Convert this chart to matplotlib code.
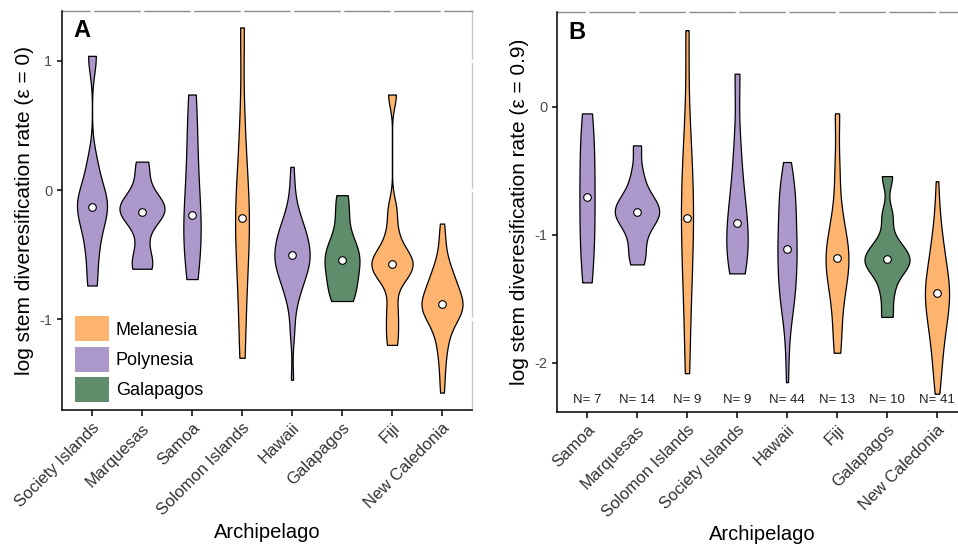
import numpy as np
import matplotlib.pyplot as plt
from matplotlib.patches import Patch

plt.rcParams['font.family'] = ['Liberation Sans', 'DejaVu Sans']

# Panel A: log stem diversification rate, epsilon = 0
cats_a = ['Society Islands', 'Marquesas', 'Samoa', 'Solomon Islands',
          'Hawaii', 'Galapagos', 'Fiji', 'New Caledonia']
a_society = [-0.74, -0.5, -0.32, -0.2, -0.13, -0.07, 0.0, 0.2, 1.04]
a_marquesas = [-0.61, -0.59, -0.55, -0.40, -0.22, -0.19, -0.17, -0.17, -0.14,
               -0.11, -0.08, -0.02, 0.15, 0.22]
a_samoa = [-0.69, -0.45, -0.3, -0.19, 0.1, 0.4, 0.74]
a_solomon = [-1.30, -0.9, -0.6, -0.4, -0.22, -0.1, 0.1, 0.5, 1.26]
a_hawaii = [-1.47, -1.15, -1.04, -0.93, -0.86, -0.82, -0.78, -0.75, -0.73, -0.71,
            -0.69, -0.66, -0.64, -0.62, -0.61, -0.595, -0.58, -0.565, -0.55, -0.54,
            -0.525, -0.51, -0.50, -0.485, -0.47, -0.455, -0.44, -0.425, -0.41, -0.39,
            -0.37, -0.355, -0.34, -0.325, -0.31, -0.29, -0.26, -0.235, -0.21, -0.17,
            -0.13, -0.05, 0.05, 0.18]
a_galapagos = [-0.86, -0.82, -0.72, -0.64, -0.57, -0.51, -0.46, -0.4, -0.2, -0.04]
a_fiji = [-1.20, -1.05, -0.9, -0.70, -0.65, -0.61, -0.57, -0.55, -0.51, -0.46,
          -0.33, -0.15, 0.74]
a_newcal = [-1.57, -1.45, -1.35, -1.27, -1.22, -1.16, -1.12, -1.08, -1.05, -1.03,
            -1.01, -0.99, -0.97, -0.955, -0.94, -0.93, -0.92, -0.905, -0.895, -0.89,
            -0.88, -0.87, -0.86, -0.84, -0.83, -0.81, -0.79, -0.77, -0.76, -0.74,
            -0.72, -0.71, -0.68, -0.65, -0.63, -0.61, -0.57, -0.52, -0.45, -0.36, -0.26]

# Panel B: epsilon = 0.9
cats_b = ['Samoa', 'Marquesas', 'Solomon Islands', 'Society Islands',
          'Hawaii', 'Fiji', 'Galapagos', 'New Caledonia']
b_samoa = [-1.37, -1.12, -0.92, -0.70, -0.48, -0.26, -0.05]
b_marquesas = [-1.23, -1.15, -1.05, -0.95, -0.9, -0.86, -0.83, -0.81, -0.78,
               -0.74, -0.7, -0.62, -0.5, -0.30]
b_solomon = [-2.08, -1.6, -1.3, -1.05, -0.87, -0.7, -0.5, -0.2, 0.60]
b_society = [-1.30, -1.22, -1.12, -1.0, -0.91, -0.78, -0.6, -0.3, 0.26]
b_hawaii = [-2.15, -1.95, -1.8, -1.68, -1.60, -1.57, -1.54, -1.51, -1.48, -1.45,
            -1.42, -1.39, -1.36, -1.33, -1.30, -1.27, -1.24, -1.21, -1.18, -1.16,
            -1.14, -1.12, -1.10, -1.07, -1.04, -1.01, -0.98, -0.95, -0.92, -0.89,
            -0.86, -0.83, -0.80, -0.77, -0.74, -0.71, -0.68, -0.65, -0.62, -0.59,
            -0.56, -0.52, -0.48, -0.43]
b_fiji = [-1.92, -1.72, -1.52, -1.4, -1.3, -1.24, -1.18, -1.12, -1.06, -0.96,
          -0.8, -0.48, -0.05]
b_galapagos = [-1.64, -1.45, -1.3, -1.24, -1.21, -1.17, -1.13, -1.05, -0.85, -0.54]
b_newcal = [-2.24, -2.15, -2.08, -2.02, -1.96, -1.91, -1.86, -1.82, -1.78, -1.74,
            -1.71, -1.68, -1.65, -1.63, -1.61, -1.58, -1.56, -1.53, -1.51, -1.48,
            -1.45, -1.44, -1.43, -1.42, -1.41, -1.38, -1.35, -1.32, -1.30, -1.27,
            -1.24, -1.21, -1.17, -1.13, -1.10, -1.06, -1.02, -0.95, -0.86, -0.76, -0.58]

region = {'Society Islands': 'Polynesia', 'Marquesas': 'Polynesia',
          'Samoa': 'Polynesia', 'Hawaii': 'Polynesia',
          'Solomon Islands': 'Melanesia', 'Fiji': 'Melanesia',
          'New Caledonia': 'Melanesia', 'Galapagos': 'Galapagos'}
region_order = ['Melanesia', 'Polynesia', 'Galapagos']
colors = {'Melanesia': '#FDB46F', 'Polynesia': '#AC98CA', 'Galapagos': '#5F8C6B'}


def kde_profile(vals, n=512):
    # gaussian kde with R's nrd0 bandwidth, trimmed to the data range
    v = np.asarray(vals, dtype=float)
    sd = v.std(ddof=1)
    iqr = np.subtract(*np.percentile(v, [75, 25]))
    lo = min(sd, iqr / 1.34) if iqr > 0 else sd
    bw = 0.9 * lo * len(v) ** -0.2
    grid = np.linspace(v.min(), v.max(), n)
    dens = np.exp(-0.5 * ((grid[:, None] - v[None, :]) / bw) ** 2).sum(1)
    dens /= len(v) * bw * np.sqrt(2 * np.pi)
    return grid, dens


def draw_panel(ax, cats, samples, ylim, yticks, letter, ylabel, show_n=False):
    profiles = [kde_profile(s) for s in samples]
    # area scaling: widths relative to the largest density in the panel
    peak = max(d.max() for _, d in profiles)
    for i, (cat, s, (g, d)) in enumerate(zip(cats, samples, profiles)):
        hw = d / peak * 0.45
        ax.fill_betweenx(g, i - hw, i + hw, facecolor=colors[region[cat]],
                         edgecolor='black', lw=0.9, zorder=2)
        ax.plot(i, np.median(s), 'o', ms=5.5, mfc='white', mec='black', mew=0.8, zorder=3)
        if show_n:
            ax.text(i, 0.03, 'N= %d' % len(s), transform=ax.get_xaxis_transform(),
                    ha='center', va='center', fontsize=9.5, color='#222222')
    ax.set_xlim(-0.6, 7.6)
    ax.set_ylim(*ylim)
    ax.set_xticks(range(len(cats)))
    ax.set_xticklabels(cats, rotation=45, ha='right', rotation_mode='anchor',
                       fontsize=12, color='#333333')
    ax.set_yticks(yticks)
    ax.set_yticklabels([str(t) for t in yticks], fontsize=10.5, color='#4d4d4d')
    ax.set_xlabel('Archipelago', fontsize=14.5, labelpad=3)
    ax.set_ylabel(ylabel, fontsize=15, labelpad=4)
    ax.text(0.027, 0.95, letter, transform=ax.transAxes, fontsize=17,
            fontweight='bold', va='center', ha='left')

    for side in ['left', 'bottom']:
        ax.spines[side].set_linewidth(1.1)
    ax.spines['top'].set_color('#8c8c8c')
    ax.spines['right'].set_color('#c8c8c8')
    for side in ['top', 'right']:
        ax.spines[side].set_linewidth(1.0)
        ax.spines[side].set_zorder(1)
    ax.tick_params(axis='x', length=4, width=1.1, top=True, direction='out')
    ax.tick_params(axis='y', length=3.5, width=1.1, right=True, direction='out')
    # small white breaks in the grey top/right frame at the tick positions
    for t in ax.xaxis.get_major_ticks() + ax.yaxis.get_major_ticks():
        t.tick2line.set_markeredgecolor('white')
        t.tick2line.set_markeredgewidth(2.5)
        t.tick2line.set_markersize(6)
    for t in ax.xaxis.get_major_ticks():
        t.tick2line.set_marker('|')
    for t in ax.yaxis.get_major_ticks():
        t.tick2line.set_marker('_')


fig = plt.figure(figsize=(9.58, 5.46), dpi=100)
ax_a = fig.add_axes([0.0647, 0.249, 0.428, 0.731])
ax_b = fig.add_axes([0.5814, 0.2454, 0.428, 0.7326])

samples_a = [a_society, a_marquesas, a_samoa, a_solomon, a_hawaii, a_galapagos, a_fiji, a_newcal]
samples_b = [b_samoa, b_marquesas, b_solomon, b_society, b_hawaii, b_fiji, b_galapagos, b_newcal]

draw_panel(ax_a, cats_a, samples_a, (-1.705, 1.388), [-1, 0, 1], 'A',
           'log stem diveresification rate (\u03b5 = 0)')
draw_panel(ax_b, cats_b, samples_b, (-2.383, 0.742), [-2, -1, 0], 'B',
           'log stem diveresification rate (\u03b5 = 0.9)', show_n=True)

handles = [Patch(facecolor=colors[r], edgecolor='none', label=r) for r in region_order]
ax_a.legend(handles=handles, loc='lower left', bbox_to_anchor=(0.032, 0.02),
            frameon=False, fontsize=13, handlelength=1.9, handleheight=1.75,
            labelspacing=0.3, handletextpad=0.35, borderpad=0, borderaxespad=0)

fig.savefig('out.png', dpi=100)
